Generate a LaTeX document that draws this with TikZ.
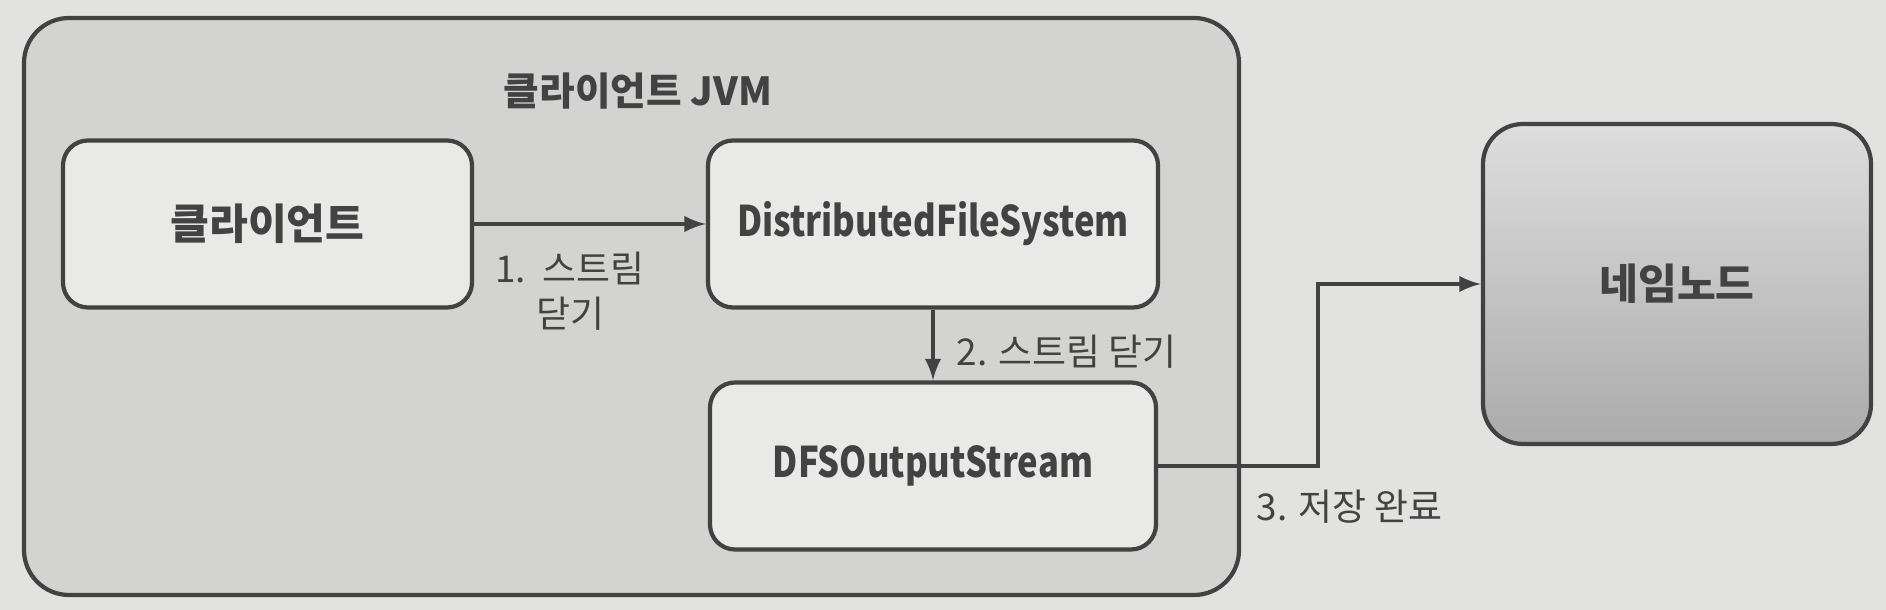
\documentclass[tikz,border=0pt]{standalone}
\usepackage{fontspec}
\setmainfont{Noto Sans CJK KR}
\newfontfamily\narrowlatin{Noto Sans CJK KR}[FakeStretch=0.82]
\usepackage{tikz}
\usetikzlibrary{shapes.geometric, arrows}
\definecolor{paper}{RGB}{226,226,224}
\definecolor{jvmgray}{RGB}{211,211,209}
\definecolor{boxgray}{RGB}{233,233,231}
\definecolor{ink}{RGB}{66,66,66}
\tikzstyle{container} = [rectangle, rounded corners=0.45cm, minimum width=12.15cm, minimum height=5.77cm, draw=ink, line width=1.2pt, fill=jvmgray]
\tikzstyle{process} = [rectangle, rounded corners=0.25cm, minimum width=4.2cm, minimum height=1.67cm, text centered, draw=ink, line width=1.2pt, fill=boxgray, font=\fontsize{12}{14}\selectfont\bfseries, text=ink]
\tikzstyle{server} = [rectangle, rounded corners=0.4cm, minimum width=3.88cm, minimum height=3.2cm, text centered, draw=ink, line width=1.2pt, top color=gray!26, bottom color=gray!66, font=\fontsize{12}{14}\selectfont\bfseries, text=ink]
\tikzstyle{lbl} = [font=\fontsize{10.5}{13}\selectfont, text=ink, align=center]
\tikzstyle{arrow} = [line width=1.1pt, draw=ink, ->, >=latex]

\begin{document}
\begin{tikzpicture}[node distance=1cm]

% Page
\useasboundingbox [fill=paper] (0,0) rectangle (18.86,-6.10);

% Client JVM
\node (jvm) [container] at (6.315,-3.065) {};
\node (jvmtitle) [lbl, font=\fontsize{11}{13}\selectfont\bfseries] at (6.38,-0.91) {클라이언트 JVM};

\node (client) [process, minimum width=4.09cm] at (2.675,-2.24) {클라이언트};
\node (dfs) [process, minimum width=4.5cm, right of=client, xshift=5.655cm] {\narrowlatin DistributedFileSystem};
\node (out) [process, minimum width=4.46cm, below of=dfs, yshift=-1.42cm] {\narrowlatin DFSOutputStream};

% Name node
\node (nn) [server, right of=dfs, xshift=6.44cm, yshift=-0.6cm] {네임노드};

% Connecting arrows
\draw [arrow] (client) -- node [lbl, below, yshift=-0.14cm, xshift=-0.2cm] {1.\ \ 스트림\\닫기} (dfs);
\draw [arrow] (dfs) -- node [lbl, right, xshift=0.1cm, yshift=-0.07cm] {2. 스트림 닫기} (out);
\draw [arrow] (out.east) -- node [lbl, below right, xshift=0.05cm, yshift=-0.1cm] {3. 저장 완료} ++(1.6,0) |- (nn.west);

\end{tikzpicture}
\end{document}
